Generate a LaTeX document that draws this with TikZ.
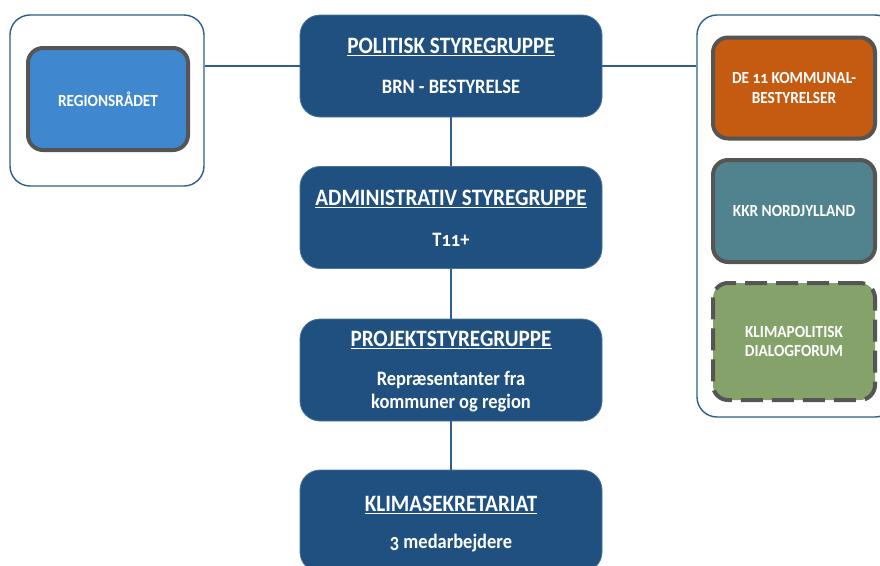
\documentclass[tikz,border=0pt]{standalone}
\usepackage{fontspec}
\setmainfont{Carlito}[Numbers=OldStyle,FakeStretch=0.9]
\usetikzlibrary{positioning}
\definecolor{boardblue}{HTML}{1F5080}
\definecolor{linkblue}{HTML}{2F5E8C}
\definecolor{regblue}{HTML}{3F88CF}
\definecolor{komorange}{HTML}{C55A11}
\definecolor{kkrteal}{HTML}{50838E}
\definecolor{klimagreen}{HTML}{84A26A}
\definecolor{rimgray}{HTML}{555555}
\tikzset{
  mainbox/.style={draw=boardblue!80!white,fill=boardblue,line width=0.8pt,
    rounded corners=20pt,minimum width=302pt,minimum height=102pt},
  outerbox/.style={draw=linkblue,line width=1.4pt,fill=white,rounded corners=20pt},
  groupbox/.style={draw=rimgray,line width=4pt,rounded corners=15pt,
    minimum width=160pt,text=white,align=center,
    font=\bfseries\fontsize{17}{19.5}\selectfont},
  headtext/.style={text=white,inner sep=0pt,font=\bfseries\fontsize{23.5}{26}\selectfont},
  subtext/.style={text=white,inner sep=0pt,align=center,
    font=\bfseries\fontsize{20.5}{23}\selectfont},
  link/.style={draw=linkblue,line width=1.4pt}
}
\begin{document}
\begin{tikzpicture}[x=1pt,y=-1pt]
  \useasboundingbox (0,0) rectangle (880,565);
  \clip (0,0) rectangle (880,565);
  % side groups
  \node[outerbox,minimum width=194pt,minimum height=171pt] (regOuter) at (107,100.5) {};
  \node[outerbox,minimum width=198pt,minimum height=402pt] (komOuter) at (796,216) {};
  \node[groupbox,fill=regblue,minimum height=102pt] (regionsraad) at (108,99) {REGIONSRÅDET};
  \node[groupbox,fill=komorange,minimum width=162pt,minimum height=101pt] (kommuner) at (794,88)
    {DE 11 KOMMUNAL-\\BESTYRELSER};
  \node[groupbox,fill=kkrteal,minimum width=162pt,minimum height=102pt] (kkr) at (794,211)
    {KKR NORDJYLLAND};
  \node[groupbox,fill=klimagreen,dash pattern=on 22pt off 9pt,minimum width=162pt,
    minimum height=117pt] (dialog) at (794,341.5) {KLIMAPOLITISK\\DIALOGFORUM};
  % main column
  \node[mainbox] (pol) at (451,66) {};
  \node[mainbox] (adm) at (451,217.5) {};
  \node[mainbox] (proj) at (451,370) {};
  \node[mainbox] (sekr) at (451,521) {};
  \draw[link] (pol.south) -- (adm.north);
  \draw[link] (adm.south) -- (proj.north);
  \draw[link] (proj.south) -- (sekr.north);
  \draw[link] (pol.west -| regOuter.east) -- (pol.west);
  \draw[link] (pol.east) -- (pol.east -| komOuter.west);
  % texts
  \node[headtext] (polHead) at (451,47) {\underline{POLITISK STYREGRUPPE}};
  \node[subtext] (polSub) at (451,87) {BRN - BESTYRELSE};
  \node[headtext] (admHead) at (451,199) {\underline{ADMINISTRATIV STYREGRUPPE}};
  \node[subtext] (admSub) at (451,240) {T11+};
  \node[headtext] (projHead) at (451,340) {\underline{PROJEKTSTYREGRUPPE}};
  \node[subtext] (projSub) at (451,391.5) {Repræsentanter fra\\kommuner og region};
  \node[headtext] (sekrHead) at (451,505) {\underline{KLIMASEKRETARIAT}};
  \node[subtext] (sekrSub) at (451,543) {3 medarbejdere};
\end{tikzpicture}
\end{document}
